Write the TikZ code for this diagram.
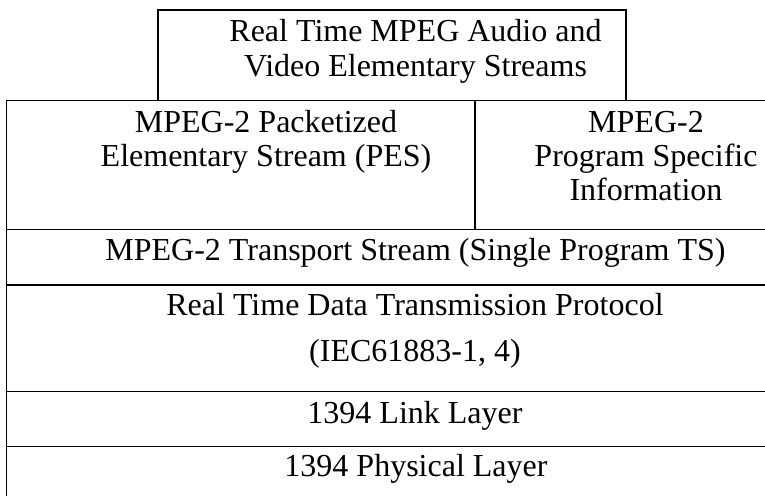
\documentclass[tikz,border=0pt]{standalone}
\usepackage{fontspec}
\setmainfont{Liberation Serif}
\begin{document}
\begin{tikzpicture}[x=1pt,y=-1pt,
  rule/.style={line width=1.5pt,draw=black},
  lbl/.style={anchor=base,inner sep=0pt,font=\fontsize{32}{35}\selectfont}]
\useasboundingbox (0,0) rectangle (765,495);
% corner coordinates
\coordinate (tl) at (158,10);
\coordinate (tr) at (626,10);
\coordinate (tbl) at (158,100.5);
\coordinate (tbr) at (626,100.5);
\coordinate (m0l) at (6.7,100.5);  \coordinate (m0r) at (775,100.5);
\coordinate (m1l) at (6.7,229.7);  \coordinate (m1r) at (775,229.7);
\coordinate (m2l) at (6.7,285);    \coordinate (m2r) at (775,285);
\coordinate (m3l) at (6.7,391.7);  \coordinate (m3r) at (775,391.7);
\coordinate (m4l) at (6.7,446.7);  \coordinate (m4r) at (775,446.7);
\coordinate (mb)  at (6.7,505);
\coordinate (dt)  at (475,100.5);
\coordinate (db)  at (475,229.7);
% frame
\draw[rule] (tbl) -- (tl) -- (tr) -- (tbr);
\draw[rule] (m0r) -- (m0l) -- (mb);
\draw[rule] (m1l) -- (m1r);
\draw[rule] (m2l) -- (m2r);
\draw[rule] (m3l) -- (m3r);
\draw[rule] (m4l) -- (m4r);
\draw[rule] (dt) -- (db);
% texts
\node[lbl] (a1) at (415.5,41.7) {Real Time MPEG Audio and};
\node[lbl] (a2) at (415.5,76.7) {Video Elementary Streams};
\node[lbl] (b1) at (266,132.5) {MPEG-2 Packetized};
\node[lbl] (b2) at (266,166) {Elementary Stream (PES)};
\node[lbl] (c1) at (646,132) {MPEG-2};
\node[lbl] (c2) at (646,166) {Program Specific};
\node[lbl] (c3) at (646,200.5) {Information};
\node[lbl] (d1) at (415.5,260) {MPEG-2 Transport Stream (Single Program TS)};
\node[lbl] (e1) at (415,315) {Real Time Data Transmission Protocol};
\node[lbl] (e2) at (415,361.7) {(IEC61883-1, 4)};
\node[lbl] (f1) at (415,423) {1394 Link Layer};
\node[lbl] (g1) at (416,476.7) {1394 Physical Layer};
\end{tikzpicture}
\end{document}
